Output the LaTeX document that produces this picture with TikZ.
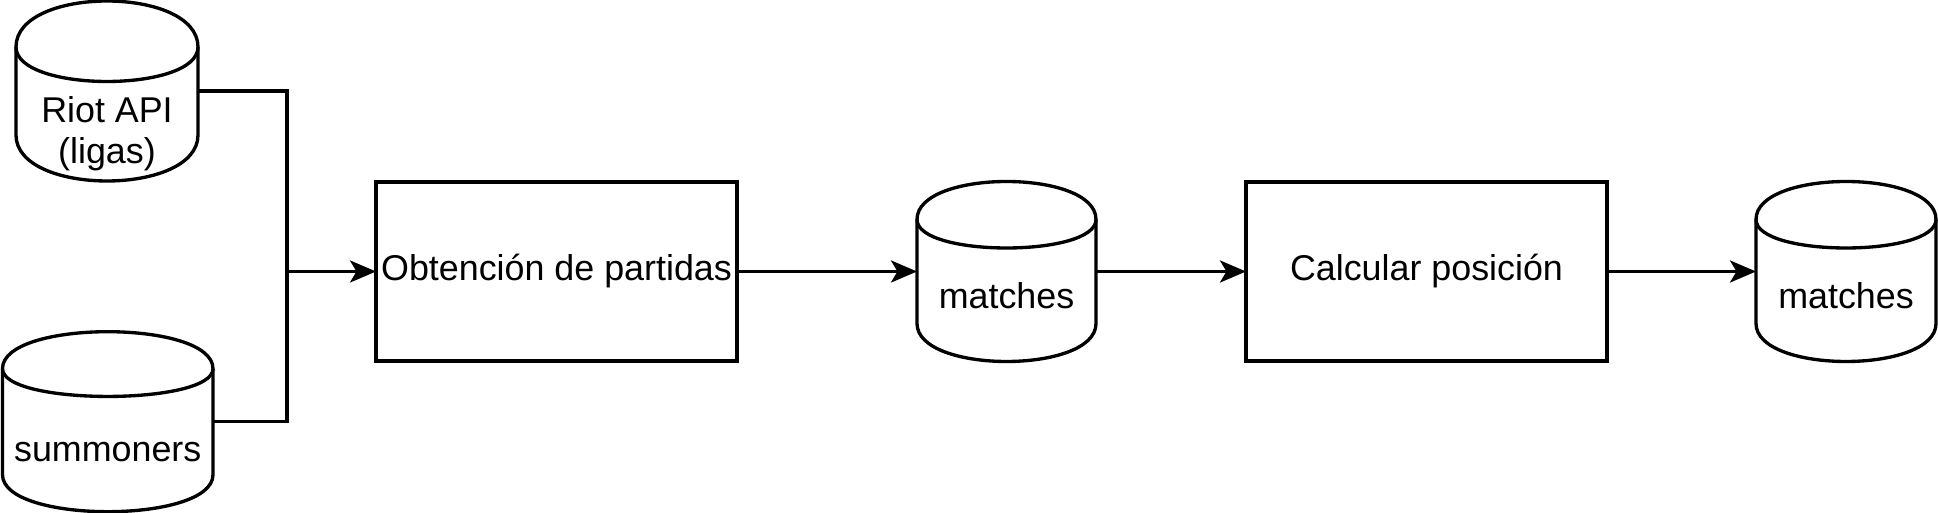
\documentclass[tikz,border=0pt]{standalone}
\usepackage{fontspec}
\setmainfont{Liberation Sans}
\usetikzlibrary{arrows.meta,calc,positioning}

% text of a database, lowered below the top cap
\newcommand{\dblabel}[2]{\raisebox{-#1}[0pt][0pt]{\begin{tabular}[t]{@{}c@{}}#2\end{tabular}}}
% outline of a database round a node, #2 = depth of the cap
\newcommand{\dbdraw}[2]{%
  \draw[line] ($(#1.north west)+(0,-#2)$)
    .. controls ($(#1.north west)+(0,#2/3)$) and ($(#1.north east)+(0,#2/3)$) .. ($(#1.north east)+(0,-#2)$)
    -- ($(#1.south east)+(0,#2)$)
    .. controls ($(#1.south east)+(0,-#2/3)$) and ($(#1.south west)+(0,-#2/3)$) .. ($(#1.south west)+(0,#2)$)
    -- cycle;
  \draw[line] ($(#1.north west)+(0,-#2)$)
    .. controls ($(#1.north west)+(0,-2*#2)$) and ($(#1.north east)+(0,-2*#2)$) .. ($(#1.north east)+(0,-#2)$);
}

\begin{document}
\begin{tikzpicture}[%
    >={Stealth[length=0.52cm,width=0.44cm,inset=0.13cm]},
    font=\fontsize{20.4pt}{23pt}\selectfont,
    line/.style={line width=1.9pt},
    link/.style={line width=1.8pt},
    proc/.style={draw, line width=1.9pt, minimum width=7.22cm, minimum height=3.58cm, inner sep=0pt, outer sep=0pt},
    db/.style={minimum width=#1, minimum height=3.6cm, inner sep=0pt, outer sep=0pt}
  ]
  \useasboundingbox (0,0) rectangle (38.76,-10.26);

  \node[db=3.64cm] (riot) at (2.14,-1.82) {\dblabel{0.64cm}{Riot API\\(ligas)}};
  \node[db=4.21cm] (summ) at (2.155,-8.434) {\dblabel{0.79cm}{summoners}};
  \node[proc] (part) at (11.13,-5.43) {Obtención de partidas};
  \node[db=3.58cm] (m1) [right=3.6cm of part] {\dblabel{0.75cm}{matches}};
  \node[proc] (calc) [right=3cm of m1] {Calcular posición};
  \node[db=3.6cm] (m2) [right=2.98cm of calc] {\dblabel{0.75cm}{matches}};

  \dbdraw{riot}{0.92cm}
  \dbdraw{summ}{0.74cm}
  \dbdraw{m1}{0.76cm}
  \dbdraw{m2}{0.76cm}

  \coordinate (join) at ($(part.west)+(-1.78cm,0)$);
  \draw[link] (riot.east) -| (join);
  \draw[link] (summ.east) -| (join);
  \draw[link,->] (join) -- (part.west);
  \draw[link,->] (part) -- (m1);
  \draw[link,->] (m1) -- (calc);
  \draw[link,->] (calc) -- (m2);
\end{tikzpicture}
\end{document}
